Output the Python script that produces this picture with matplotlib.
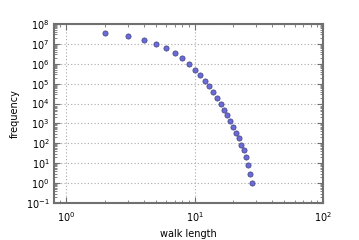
import numpy as np
import matplotlib
matplotlib.use("Agg")
import matplotlib.pyplot as plt
from matplotlib.ticker import LogLocator, NullFormatter


# walk length vs frequency
walk_length = [2, 3, 4, 5, 6, 7, 8, 9, 10, 11, 12, 13, 14, 15,
               16, 17, 18, 19, 20, 21, 22, 23, 24, 25, 26, 27, 28]
frequency = [3.5e7, 2.5e7, 1.66e7, 1.0e7, 5.9e6, 3.4e6, 1.86e6, 9.8e5,
             5.0e5, 2.75e5, 1.4e5, 7.4e4, 3.8e4, 1.95e4, 9.8e3, 5.0e3,
             2.6e3, 1.4e3, 660, 340, 178, 80, 45, 21, 8, 3, 1]

plt.rcParams['font.size'] = 7

fig = plt.figure(figsize=(3.59, 2.4), dpi=100)
ax = fig.add_axes([0.150, 0.154, 0.750, 0.746])

ax.scatter(walk_length, frequency, s=14, color='#6a6ad8',
           edgecolors='#40407a', linewidths=0.5, zorder=3)

ax.set_xscale('log')
ax.set_yscale('log')
ax.set_xlim(0.8, 100)
ax.set_ylim(1e-1, 1e8)
ax.yaxis.set_major_locator(LogLocator(base=10, numticks=20))
ax.yaxis.set_minor_locator(LogLocator(base=10, subs=np.arange(2, 10), numticks=20))
ax.yaxis.set_minor_formatter(NullFormatter())
ax.grid(True, which='major', linestyle=(0, (1, 2)), color='#aaaaaa', linewidth=0.8)

for s in ax.spines.values():
    s.set_color('#707070')
    s.set_linewidth(1.5)

ax.tick_params(which='both', direction='in', top=True, right=True,
               color='#707070')
ax.tick_params(which='major', length=4, width=0.8)
ax.tick_params(which='minor', length=2, width=0.6)
ax.tick_params(axis='x', which='major', pad=5)
ax.tick_params(axis='y', which='major', pad=3)

ax.set_xlabel('walk length')
ax.set_ylabel('frequency')

plt.savefig('out.png', dpi=100)
